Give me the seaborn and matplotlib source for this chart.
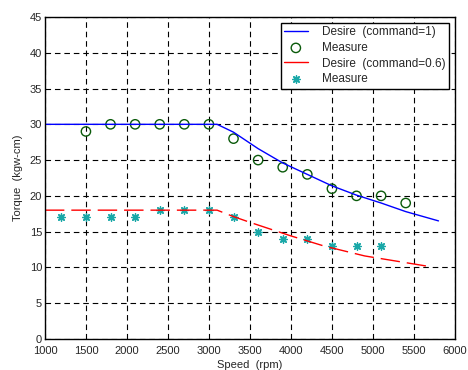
import numpy as np
import pandas as pd
import matplotlib
matplotlib.use("Agg")
import matplotlib.pyplot as plt
import seaborn as sns

# desired torque curves
desire1_rpm = [1000, 3100, 3300, 3600, 3900, 4200, 4500, 4800, 5100, 5400, 5800]
desire1_tq = [30, 30, 28.9, 26.6, 24.6, 23.0, 21.4, 20.1, 19.0, 17.8, 16.5]
desire06_rpm = [1000, 3100, 3300, 3500, 4000, 4400, 4900, 5700]
desire06_tq = [18, 18, 17.1, 16.3, 14.4, 13.0, 11.6, 10.1]

# measured points
meas1_rpm = [1500, 1800, 2100, 2400, 2700, 3000, 3300, 3600, 3900, 4200, 4500, 4800, 5100, 5400]
meas1_tq = [29, 30, 30, 30, 30, 30, 28, 25, 24, 23, 21, 20, 20, 19]
meas06_rpm = [1200, 1500, 1800, 2100, 2400, 2700, 3000, 3300, 3600, 3900, 4200, 4500, 4800, 5100]
meas06_tq = [17, 17, 17, 17, 18, 18, 18, 17, 15, 14, 14, 13, 13, 13]

sns.set_style("white")
plt.rcParams['font.family'] = ['Liberation Sans', 'DejaVu Sans']

fig = plt.figure(figsize=(4.68, 3.70), dpi=100)
ax = fig.add_axes([0.096, 0.084, 0.876, 0.870])

sns.lineplot(x=desire1_rpm, y=desire1_tq, ax=ax, color='blue', linewidth=1,
             label='Desire  (command=1)')
sns.scatterplot(x=meas1_rpm, y=meas1_tq, ax=ax, marker='o', s=45,
                facecolor='none', edgecolor='#0a5a0a', linewidth=1, label='Measure')
sns.lineplot(x=desire06_rpm, y=desire06_tq, ax=ax, color='red', linewidth=1,
             dashes=False, label='Desire  (command=0.6)')
red_line = ax.lines[-1]
sns.scatterplot(x=meas06_rpm, y=meas06_tq, ax=ax, marker=(8, 2, 0), s=28,
                color='#1aa8a8', edgecolor='#1aa8a8', linewidth=1.0, label='Measure')

ax.set_xlim(1000, 6000)
ax.set_ylim(0, 45)
ax.set_xticks(range(1000, 6001, 500))
ax.set_yticks(range(0, 46, 5))
ax.tick_params(labelsize=8, length=3, direction='in')
ax.tick_params(axis='x', pad=5)
ax.tick_params(axis='y', pad=2)
ax.grid(True, color='black', linestyle=(0, (5, 3.5)), linewidth=0.8)
for sp in ax.spines.values():
    sp.set_color('black')
    sp.set_linewidth(1)

ax.set_xlabel('Speed  (rpm)', fontsize=8, labelpad=3)
ax.set_ylabel('Torque  (kgw-cm)', fontsize=8, labelpad=5)

# legend made while the red line is still solid
leg = ax.legend(loc='upper right', fontsize=8.5, frameon=True, fancybox=False,
                edgecolor='black', framealpha=1, borderpad=0.3, labelspacing=0.3,
                handlelength=2.0, handletextpad=1.2, borderaxespad=0.5)
leg.get_frame().set_linewidth(1)
red_line.set_dashes((14, 5))

fig.savefig('out.png', dpi=100)
